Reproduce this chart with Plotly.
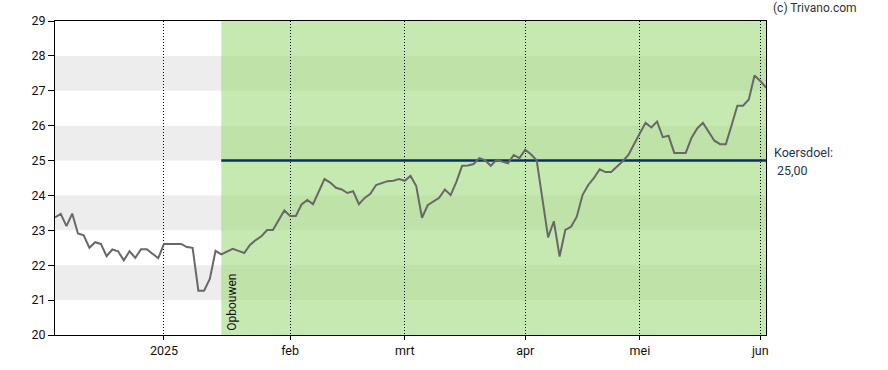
import pandas as pd
import plotly.graph_objects as go

# ---- data -------------------------------------------------------------
start_date = "2024-12-03"
end_date = "2025-06-03"
market_holidays = ["2024-12-25", "2024-12-26", "2025-01-01",
                   "2025-04-18", "2025-04-21", "2025-05-01"]

prices = [
    23.37, 23.47, 23.12, 23.48, 22.91, 22.86, 22.50, 22.66, 22.61, 22.26,
    22.45, 22.40, 22.14, 22.40, 22.21, 22.46, 22.46, 22.32, 22.20, 22.61,
    22.61, 22.61, 22.61, 22.52, 22.50, 21.27, 21.27, 21.61, 22.41, 22.31,
    22.40, 22.47, 22.41, 22.35, 22.58, 22.72, 22.83, 23.01, 23.01, 23.29,
    23.57, 23.41, 23.41, 23.74, 23.87, 23.75, 24.10, 24.47, 24.37, 24.22,
    24.17, 24.07, 24.12, 23.75, 23.93, 24.05, 24.30, 24.36, 24.41, 24.42,
    24.47, 24.42, 24.56, 24.27, 23.36, 23.72, 23.83, 23.93, 24.17, 24.01,
    24.39, 24.85, 24.86, 24.90, 25.07, 25.01, 24.85, 25.02, 24.97, 24.92,
    25.16, 25.07, 25.31, 25.18, 25.01, 23.96, 22.80, 23.26, 22.25, 23.01,
    23.10, 23.39, 24.01, 24.30, 24.50, 24.75, 24.67, 24.67, 24.82, 24.98,
    25.16, 25.45, 25.78, 26.08, 25.95, 26.12, 25.67, 25.71, 25.22, 25.22,
    25.22, 25.65, 25.92, 26.08, 25.82, 25.57, 25.47, 25.47, 26.01, 26.57,
    26.57, 26.75, 27.44, 27.28, 27.09,
]

month_labels = {1: "2025", 2: "feb", 3: "mrt", 4: "apr", 5: "mei", 6: "jun"}
zone_start = "2025-01-16"
zone_label = "Opbouwen"
target_price = 25.00
target_label = "Koersdoel:"
target_text = "25,00"
y_ticks = [20, 21, 22, 23, 24, 25, 26, 27, 28, 29]
band_starts = [21, 23, 25, 27]

# ---- derived ----------------------------------------------------------
days = pd.bdate_range(start_date, end_date)
days = [d for d in days if d.strftime("%Y-%m-%d") not in market_holidays]
idx = list(range(len(days)))
n_last = idx[-1]

tickvals, ticktext = [], []
for i, d in enumerate(days):
    if i > 0 and d.month != days[i - 1].month and d.month in month_labels:
        tickvals.append(i)
        ticktext.append(month_labels[d.month])

zone_i = next(i for i, d in enumerate(days) if d >= pd.Timestamp(zone_start))

GRAY = "#ededed"
GREEN = "#c6e9b2"
GREEN_DARK = "#bfe2a8"
NAVY = "#05325a"
FONT = "Roboto"

shapes = []
for b in band_starts:
    shapes.append(dict(type="rect", xref="x", yref="y", x0=0, x1=zone_i,
                       y0=b, y1=b + 1, fillcolor=GRAY, line_width=0, layer="below"))
shapes.append(dict(type="rect", xref="x", yref="y", x0=zone_i, x1=n_last,
                   y0=20, y1=29, fillcolor=GREEN, line_width=0, layer="below"))
for b in band_starts:
    shapes.append(dict(type="rect", xref="x", yref="y", x0=zone_i, x1=n_last,
                       y0=b, y1=b + 1, fillcolor=GREEN_DARK, line_width=0, layer="below"))

fig = go.Figure()
fig.add_trace(go.Scatter(x=[zone_i, n_last], y=[target_price, target_price],
                         mode="lines", line=dict(color=NAVY, width=2.5),
                         hoverinfo="skip", showlegend=False))
fig.add_trace(go.Scatter(x=idx, y=prices, mode="lines",
                         line=dict(color="#686868", width=2),
                         showlegend=False))

annotations = [
    dict(text="(c) Trivano.com", xref="paper", yref="paper", x=1.0, xshift=5,
         y=1.0, yshift=4, xanchor="left", yanchor="bottom", showarrow=False,
         font=dict(family=FONT, size=12, color="#333333")),
    dict(text=target_label, xref="paper", yref="y", x=1.0, xshift=6,
         y=target_price, yshift=8, xanchor="left", yanchor="middle", showarrow=False,
         font=dict(family=FONT, size=12.5, color="#1f3550")),
    dict(text=target_text, xref="paper", yref="y", x=1.0, xshift=9,
         y=target_price, yshift=-10, xanchor="left", yanchor="middle", showarrow=False,
         font=dict(family=FONT, size=12.5, color="#1f3550")),
    dict(text=zone_label, xref="x", yref="y", x=zone_i, xshift=1, y=20, yshift=2,
         xanchor="left", yanchor="bottom", textangle=-90, showarrow=False,
         font=dict(family=FONT, size=12, color="#111111")),
]

fig.update_layout(
    width=888, height=370,
    margin=dict(l=55, r=122, t=21, b=35),
    paper_bgcolor="white", plot_bgcolor="white",
    shapes=shapes, annotations=annotations,
    font=dict(family=FONT, size=12, color="#111111"),
    hovermode=False,
    xaxis=dict(range=[0, n_last], tickvals=tickvals, ticktext=ticktext,
               showgrid=True, gridcolor="black", gridwidth=1, griddash="1px,2px",
               showline=True, linecolor="black", linewidth=1, mirror=True,
               ticks="outside", ticklen=4, tickcolor="black", automargin=False,
               zeroline=False, tickfont=dict(family=FONT, size=12.5, color="#111111")),
    yaxis=dict(range=[20, 29], tickvals=y_ticks, showgrid=False,
               showline=True, linecolor="black", linewidth=1, mirror=True,
               ticks="outside", ticklen=6, tickcolor="black", automargin=False,
               zeroline=False, tickfont=dict(family=FONT, size=12.5, color="#111111")),
)

fig.write_html(
    "out.html",
    config={"displayModeBar": False},
    post_script="document.body.style.margin='0px';document.body.style.overflow='hidden';",
)
